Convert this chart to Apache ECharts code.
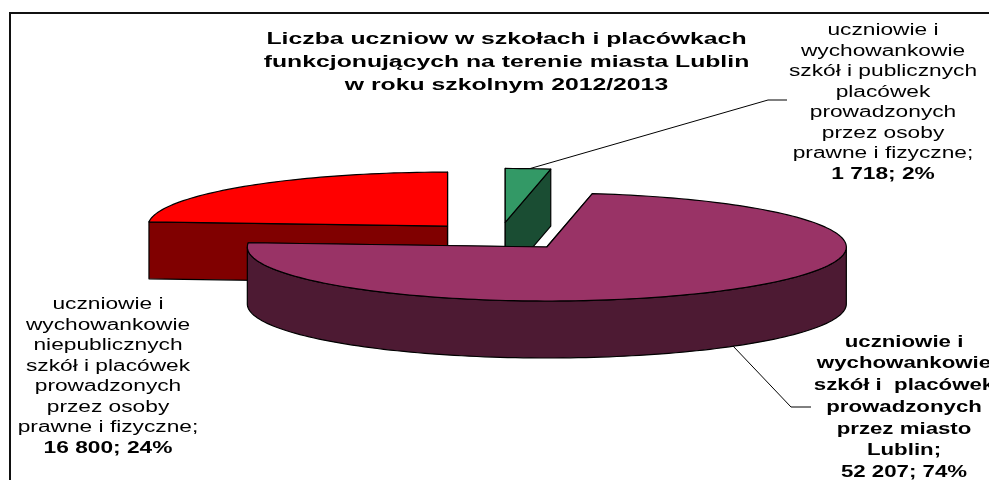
<!DOCTYPE html>
<html><head><meta charset="utf-8">
<style>html,body{margin:0;padding:0;background:#fff}#c{width:989px;height:480px}</style>
<script src="https://cdn.jsdelivr.net/npm/echarts@6/dist/echarts.min.js"></script>
</head><body><div id="c"></div>
<script>
const titleLines = ['Liczba uczniow w szkołach i placówkach','funkcjonujących na terenie miasta Lublin','w roku szkolnym 2012/2013'];
const sliceNames = ['uczniowie i\nwychowankowie\nszkół i publicznych\nplacówek\nprowadzonych\nprzez osoby\nprawne i fizyczne;',
  'uczniowie i\nwychowankowie\nszkół i  placówek\nprowadzonych\nprzez miasto\nLublin;',
  'uczniowie i\nwychowankowie\nniepublicznych\nszkół i placówek\nprowadzonych\nprzez osoby\nprawne i fizyczne;'];
const sliceValues = [1718, 52207, 16800];
const sliceValueText = ['1 718; 2%', '52 207; 74%', '16 800; 24%'];
const topColors = ['#339966', '#993366', '#ff0000'];
const sideColors = ['#1a4d33', '#4d1a33', '#800000'];

const FONT = '"Liberation Sans", Arial, sans-serif';
const pie = {cx: 499.4, cy: 236.2, rx: 299.5, ry: 54, depth: 57, explode: 0.255, start: 0};
const labelLayout = [
  {x: 883, y: 20.5, lh: 20.5, size: 16, bold: false, sx: 1.42},
  {x: 904, y: 331.5, lh: 21.7, size: 16, bold: true, sx: 1.39},
  {x: 108, y: 294.5, lh: 20.5, size: 16, bold: false, sx: 1.42}
];
const leaders = [
  [[525, 170], [768, 100], [787, 100]],
  [[733, 346], [791, 407], [811, 407]]
];
const total = sliceValues.reduce((a, b) => a + b, 0);
const rad = d => d * Math.PI / 180;
let acc = pie.start;
const spans = sliceValues.map(v => { const a = acc; acc += v / total * 360; return [a, acc]; });

function ell(c, deg, dy) {
  return [c[0] + pie.rx * Math.sin(rad(deg)), c[1] - pie.ry * Math.cos(rad(deg)) + (dy || 0)];
}
function arc(c, a, b, dy) {
  const pts = [], n = Math.max(2, Math.ceil(Math.abs(b - a) / 1.5));
  for (let i = 0; i <= n; i++) pts.push(ell(c, a + (b - a) * i / n, dy));
  return pts;
}
const poly = (points, fill) => ({type: 'polygon', shape: {points},
  style: {fill, stroke: '#000', lineWidth: 1.2, lineJoin: 'round'}});

function renderSlice(params, api) {
  const i = api.value(0);
  const [a, b] = spans[i];
  const mid = (a + b) / 2;
  const c = [pie.cx + pie.explode * pie.rx * Math.sin(rad(mid)),
             pie.cy - pie.explode * pie.ry * Math.cos(rad(mid))];
  const d = pie.depth;
  const kids = [];
  const low = [c[0], c[1] + d];
  // cut faces, then the front of the outer wall, then the top
  [a, b].forEach(t => {
    const p = ell(c, t);
    kids.push(poly([c, p, [p[0], p[1] + d], low], sideColors[i]));
  });
  const wa = Math.max(a, 90), wb = Math.min(b, 270);
  if (wb > wa) {
    const upper = arc(c, wa, wb);
    const lower = arc(c, wb, wa, d);
    kids.push(poly(upper.concat(lower), sideColors[i]));
  }
  kids.push(poly([c].concat(arc(c, a, b)), topColors[i]));
  return {type: 'group', children: kids};
}

function renderLabel(params, api) {
  const i = api.value(0);
  const L = labelLayout[i];
  const w = L.bold ? 'bold' : 'normal';
  return {type: 'text', x: L.x, y: L.y, scaleX: L.sx, style: {
    text: sliceNames[i].split('\n').map(s => '{n|' + s + '}').join('\n') + '\n{b|' + sliceValueText[i] + '}',
    align: 'center', verticalAlign: 'top', fill: '#000',
    rich: {
      n: {font: w + ' ' + L.size + 'px ' + FONT, lineHeight: L.lh, fill: '#000', align: 'center'},
      b: {font: 'bold ' + L.size + 'px ' + FONT, lineHeight: L.lh, fill: '#000', align: 'center'}
    }}};
}

const chart = echarts.init(document.getElementById('c'), null, {renderer: 'canvas'});
chart.setOption({
  animation: false,
  backgroundColor: '#fff',
  graphic: [
    {type: 'rect', shape: {x: 10, y: 13, width: 1000, height: 500}, silent: true, z: 0,
     style: {fill: 'none', stroke: '#111', lineWidth: 2}},
    ...leaders.map(pts => ({type: 'polyline', shape: {points: pts}, silent: true, z: 1,
      style: {fill: 'none', stroke: '#000', lineWidth: 1}})),
    {type: 'text', x: 506.5, y: 28, scaleX: 1.5, silent: true, z: 4,
     style: {text: titleLines.join('\n'), align: 'center', verticalAlign: 'top', fill: '#000',
       font: 'bold 16.5px ' + FONT, lineHeight: 23}}
  ],
  series: [
    // painted back to front: red, green, then the large slice
    {type: 'custom', coordinateSystem: 'none', renderItem: renderSlice, data: [[2], [0], [1]], z: 2, silent: true},
    {type: 'custom', coordinateSystem: 'none', renderItem: renderLabel, data: [[0], [1], [2]], z: 3, silent: true}
  ]
});
</script></body></html>
